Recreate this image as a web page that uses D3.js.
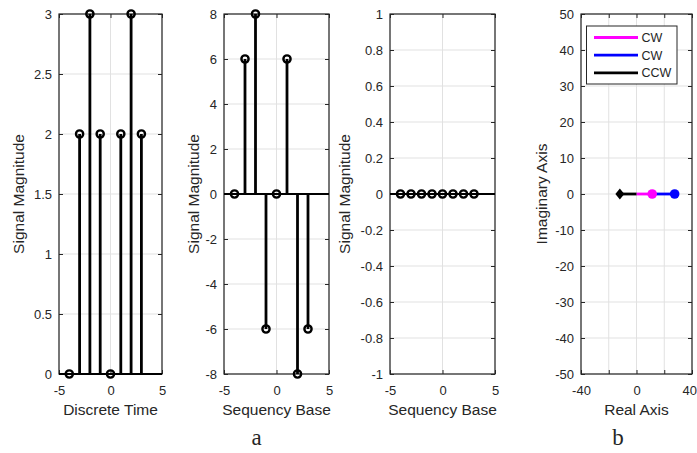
<!DOCTYPE html>
<html>
<head>
<meta charset="utf-8">
<script src="https://cdn.jsdelivr.net/npm/d3@7"></script>
<style>
  html, body { margin: 0; padding: 0; background: #fff; }
  svg { display: block; }
  text { font-family: "Liberation Sans", Arial, sans-serif; fill: #262626; }
</style>
</head>
<body>
<script>
// Discrete-time sample indices shared by the three stem plots
const sampleIndex = [-4, -3, -2, -1, 0, 1, 2, 3];
// Time-domain signal
const timeSignal = [0, 2, 3, 2, 0, 2, 3, 2];
// Sequency-domain coefficients
const sequencyCoeffs = [0, 6, 8, -6, 0, 6, -8, -6];
// Sequency-domain residual (all zero)
const sequencyResidual = [0, 0, 0, 0, 0, 0, 0, 0];

// Tick values for each panel
const xTicksStem = [-5, 0, 5];
const yTicksTime = [0, 0.5, 1, 1.5, 2, 2.5, 3];
const yTicksSeq = [-8, -6, -4, -2, 0, 2, 4, 6, 8];
const yTicksResid = [-1, -0.8, -0.6, -0.4, -0.2, 0, 0.2, 0.4, 0.6, 0.8, 1];
const xTicksPlane = [-40, -20, 0, 20, 40];
const xLabelsPlane = [-40, 0, 40];
const yTicksPlane = [-50, -40, -30, -20, -10, 0, 10, 20, 30, 40, 50];

// Phasor segments on the complex plane
const phasorNames = ["CW", "CW", "CCW"];
const phasorStartRe = [0, 11.3, 0];
const phasorEndRe = [11.3, 27.5, -12];
const phasorEndIm = [0, 0, 0];

const W = 697, H = 453;
const svg = d3.select("body").append("svg").attr("width", W).attr("height", H);

const TOP = 14, BOTTOM = 374, TICK = 4;
const AXIS = "#262626", GRID = "#e1e1e1";
const fmt = d => String(+(+d).toFixed(2));

function makePanel(left, right, xDomain, yDomain, xTicks, yTicks, xFmt, yFmt, xLabel, yLabel, yLabelX) {
  const x = d3.scaleLinear().domain(xDomain).range([left, right]);
  const y = d3.scaleLinear().domain(yDomain).range([BOTTOM, TOP]);
  const g = svg.append("g");

  // grid
  g.append("g").selectAll("line").data(xTicks).join("line")
    .attr("x1", d => x(d)).attr("x2", d => x(d)).attr("y1", TOP).attr("y2", BOTTOM)
    .attr("stroke", GRID).attr("stroke-width", 1);
  g.append("g").selectAll("line").data(yTicks).join("line")
    .attr("y1", d => y(d)).attr("y2", d => y(d)).attr("x1", left).attr("x2", right)
    .attr("stroke", GRID).attr("stroke-width", 1);

  const style = sel => {
    sel.select(".domain").remove();
    sel.selectAll("line").attr("stroke", AXIS);
    sel.selectAll("text").attr("fill", AXIS).style("font-size", "13px")
      .style("font-family", "'Liberation Sans', Arial, sans-serif");
  };

  const bottomAxis = g.append("g").attr("transform", `translate(0,${BOTTOM})`)
    .call(d3.axisBottom(x).tickValues(xTicks).tickFormat(xFmt).tickSizeInner(-TICK).tickSizeOuter(0).tickPadding(12))
    .call(style);
  g.append("g").attr("transform", `translate(0,${TOP})`)
    .call(d3.axisTop(x).tickValues(xTicks).tickFormat("").tickSizeInner(-TICK).tickSizeOuter(0))
    .call(style);
  g.append("g").attr("transform", `translate(${left},0)`)
    .call(d3.axisLeft(y).tickValues(yTicks).tickFormat(yFmt).tickSizeInner(-TICK).tickSizeOuter(0).tickPadding(7))
    .call(style);
  g.append("g").attr("transform", `translate(${right},0)`)
    .call(d3.axisRight(y).tickValues(yTicks).tickFormat("").tickSizeInner(-TICK).tickSizeOuter(0))
    .call(style);

  // box
  g.append("rect").attr("x", left).attr("y", TOP).attr("width", right - left).attr("height", BOTTOM - TOP)
    .attr("fill", "none").attr("stroke", AXIS).attr("stroke-width", 1.2);

  // axis labels
  g.append("text").attr("x", (left + right) / 2).attr("y", 415)
    .attr("text-anchor", "middle").style("font-size", "15.5px").text(xLabel);
  g.append("text").attr("transform", `translate(${yLabelX},${(TOP + BOTTOM) / 2}) rotate(-90)`)
    .attr("text-anchor", "middle").style("font-size", "15.5px").text(yLabel);

  return { g, x, y, left, right, bottomAxis };
}

function drawStems(p, values) {
  const pts = sampleIndex.map((n, i) => ({ n, v: values[i] }));
  // baseline
  p.g.append("line").attr("x1", p.left).attr("x2", p.right)
    .attr("y1", p.y(0)).attr("y2", p.y(0)).attr("stroke", "#000").attr("stroke-width", 2);
  p.g.append("g").selectAll("line").data(pts).join("line")
    .attr("x1", d => p.x(d.n)).attr("x2", d => p.x(d.n))
    .attr("y1", p.y(0)).attr("y2", d => p.y(d.v))
    .attr("stroke", "#000").attr("stroke-width", 2.8);
  p.g.append("g").selectAll("circle").data(pts).join("circle")
    .attr("cx", d => p.x(d.n)).attr("cy", d => p.y(d.v)).attr("r", 3.6)
    .attr("fill", "none").attr("stroke", "#000").attr("stroke-width", 2.4);
}

const p1 = makePanel(59, 162, [-5, 5], [0, 3], xTicksStem, yTicksTime, fmt, fmt,
  "Discrete Time", "Signal Magnitude", 24);
drawStems(p1, timeSignal);

const p2 = makePanel(224, 329, [-5, 5], [-8, 8], xTicksStem, yTicksSeq, fmt, fmt,
  "Sequency Base", "Signal Magnitude", 199);
drawStems(p2, sequencyCoeffs);

const p3 = makePanel(390, 495, [-5, 5], [-1, 1], xTicksStem, yTicksResid, fmt, fmt,
  "Sequency Base", "Signal Magnitude", 350);
drawStems(p3, sequencyResidual);

const p4 = makePanel(581, 692, [-40, 40], [-50, 50], xTicksPlane, yTicksPlane,
  d => xLabelsPlane.includes(d) ? fmt(d) : "", fmt,
  "Real Axis", "Imaginary Axis", 547);
// keep the last real-axis label inside the figure edge
p4.bottomAxis.selectAll(".tick text").filter(d => d === d3.max(xLabelsPlane))
  .attr("text-anchor", "end").attr("dx", 4.5);

const phasorColors = ["#ff00ff", "#0000ff", "#000000"];
const phasors = phasorNames.map((name, i) => ({
  name, x0: phasorStartRe[i], x1: phasorEndRe[i], y1: phasorEndIm[i], color: phasorColors[i]
}));
p4.g.append("g").selectAll("line").data(phasors).join("line")
  .attr("x1", d => p4.x(d.x0)).attr("x2", d => p4.x(d.x1))
  .attr("y1", d => p4.y(0)).attr("y2", d => p4.y(d.y1))
  .attr("stroke", d => d.color).attr("stroke-width", 2.8);
phasors.forEach((d, i) => {
  const cx = p4.x(d.x1), cy = p4.y(d.y1);
  if (i < 2) {
    p4.g.append("circle").attr("cx", cx).attr("cy", cy).attr("r", 4.8).attr("fill", d.color);
  } else {
    p4.g.append("path").attr("d", `M${cx},${cy - 5.5}L${cx + 4.5},${cy}L${cx},${cy + 5.5}L${cx - 4.5},${cy}Z`)
      .attr("fill", d.color);
  }
});

// legend
const lg = p4.g.append("g");
lg.append("rect").attr("x", 586.5).attr("y", 26).attr("width", 90.5).attr("height", 58)
  .attr("fill", "#fff").attr("stroke", AXIS).attr("stroke-width", 1);
phasors.forEach((d, i) => {
  const yy = 37.5 + i * 17.7;
  lg.append("line").attr("x1", 594).attr("x2", 638).attr("y1", yy).attr("y2", yy)
    .attr("stroke", d.color).attr("stroke-width", 2.8);
  lg.append("text").attr("x", 641.5).attr("y", yy + 4.5).style("font-size", "12.5px").text(d.name);
});

// sub-figure captions
svg.append("text").attr("x", 256.5).attr("y", 445).attr("text-anchor", "middle")
  .style("font-family", "'Liberation Serif', 'Times New Roman', serif").style("font-size", "23px")
  .attr("fill", "#000").text("a");
svg.append("text").attr("x", 618).attr("y", 445).attr("text-anchor", "middle")
  .style("font-family", "'Liberation Serif', 'Times New Roman', serif").style("font-size", "23px")
  .attr("fill", "#000").text("b");
</script>
</body>
</html>
